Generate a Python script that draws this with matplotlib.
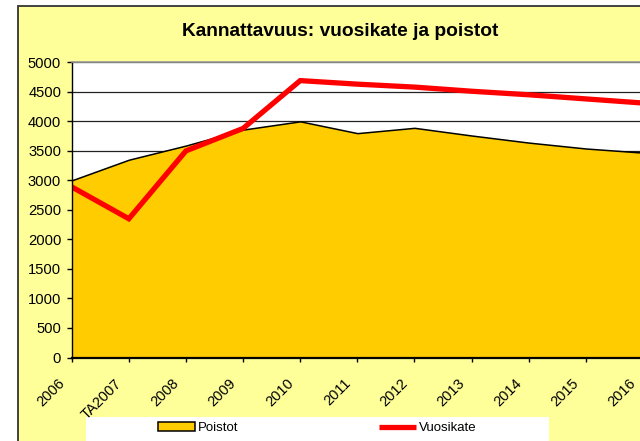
import matplotlib
matplotlib.use("Agg")
import matplotlib.pyplot as plt
from matplotlib.patches import Rectangle
from matplotlib.transforms import ScaledTranslation

categories = ["2006", "TA2007", "2008", "2009", "2010", "2011", "2012",
              "2013", "2014", "2015", "2016"]
poistot = [3000, 3350, 3590, 3860, 4000, 3800, 3890, 3760, 3640, 3540, 3470]
vuosikate = [2890, 2350, 3500, 3880, 4690, 4630, 4580, 4510, 4450, 4380, 4310]
y_ticks = [0, 500, 1000, 1500, 2000, 2500, 3000, 3500, 4000, 4500, 5000]
title = "Kannattavuus: vuosikate ja poistot"

plt.rcParams['font.family'] = ['Liberation Sans', 'DejaVu Sans']

W, H = 640, 441
fig = plt.figure(figsize=(W / 100, H / 100), dpi=100)
fig.patch.set_facecolor("white")

# chart area background (yellow with dark border)
fig.patches.append(Rectangle((17.5 / W, -0.1), 1.2, (H - 6 + 0.1 * H) / H,
                             transform=fig.transFigure, facecolor="#FFFF99",
                             edgecolor="#333333", linewidth=1.3, zorder=-2))
# legend background (white box)
fig.patches.append(Rectangle((86 / W, -0.1), (549 - 86) / W, (441 - 417) / H + 0.1,
                             transform=fig.transFigure, facecolor="white",
                             edgecolor="none", zorder=-1))

left, right = 71.7, 643.0
top, bottom = 62.3, 357.5
ax = fig.add_axes([left / W, (H - bottom) / H, (right - left) / W, (bottom - top) / H])
ax.set_facecolor("white")

x = list(range(len(categories)))
fill = ax.fill_between(x, 0, poistot, facecolor="#FFCC00", edgecolor="black",
                       linewidth=1.1, label="Poistot", zorder=1)
line, = ax.plot(x, vuosikate, color="#FF0000", linewidth=3.8, label="Vuosikate",
                solid_capstyle="butt", solid_joinstyle="miter", zorder=2)

ax.set_xlim(0, len(categories) - 1)
ax.set_ylim(0, 5000)
ax.set_yticks(y_ticks)
ax.set_yticklabels([str(v) for v in y_ticks])
ax.set_xticks(x)
ax.set_xticklabels(categories, rotation=45, ha="right", va="top",
                   rotation_mode="anchor")

ax.set_axisbelow(True)
ax.yaxis.grid(True, color="#222222", linewidth=0.9)
ax.xaxis.grid(False)

for s in ["left", "bottom"]:
    ax.spines[s].set_color("black")
ax.spines["left"].set_linewidth(1.0)
ax.spines["bottom"].set_linewidth(1.6)
ax.spines["top"].set_color("#999999")
ax.spines["top"].set_linewidth(1.2)
ax.spines["right"].set_visible(False)

ax.tick_params(axis="y", direction="out", length=3.6, width=1.0, pad=4,
               labelsize=10.6, colors="black")
ax.tick_params(axis="x", direction="out", length=2.9, width=1.0, pad=10.5,
               labelsize=10.5, colors="black")
for lbl in ax.get_xticklabels():
    lbl.set_transform(lbl.get_transform() + ScaledTranslation(-14 / 100, 0, fig.dpi_scale_trans))

fig.text(340 / W, 1 - 31 / H, title, ha="center", va="center",
         fontsize=13.8, fontweight="bold", color="black")

leg = fig.legend([fill, line], ["Poistot", "Vuosikate"], ncol=2,
                 loc="center left", bbox_to_anchor=(158 / W, 1 - 428 / H),
                 frameon=False, fontsize=9.5, handlelength=2.8,
                 handletextpad=0.25, columnspacing=10.6, borderpad=0,
                 borderaxespad=0, handleheight=0.6)
leg.set_zorder(3)

fig.savefig("out.png", dpi=100)
